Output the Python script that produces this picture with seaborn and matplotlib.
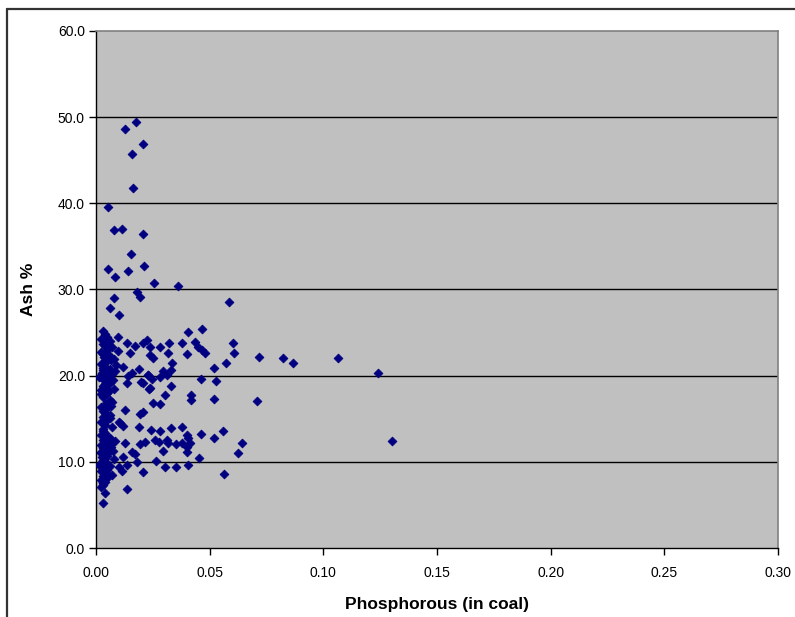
import matplotlib
matplotlib.use("Agg")
import matplotlib.pyplot as plt
import seaborn as sns
import pandas as pd
from matplotlib.lines import Line2D

# ---- data ----
outlier_x = [0.0128, 0.0176, 0.0207, 0.0158, 0.0163, 0.0053, 0.0079, 0.0114, 0.0207, 0.0153,
             0.0053, 0.0141, 0.0212, 0.0084, 0.0255, 0.0360, 0.0180, 0.0194, 0.0079, 0.0060,
             0.0100, 0.0585]
outlier_y = [48.6, 49.4, 46.9, 45.7, 41.8, 39.6, 36.9, 37.0, 36.4, 34.1,
             32.4, 32.1, 32.7, 31.4, 30.7, 30.4, 29.7, 29.1, 29.0, 27.8,
             27.0, 28.5]

mid_x = [0.0405, 0.0466, 0.0098, 0.0136, 0.0172, 0.0207, 0.0224, 0.0238, 0.0280, 0.0320,
         0.0380, 0.0436, 0.0450, 0.0466, 0.0480, 0.0603, 0.0607, 0.0717, 0.0824, 0.0865,
         0.1066, 0.1242, 0.1304, 0.0150, 0.0238, 0.0250, 0.0317, 0.0334, 0.0400, 0.0572,
         0.0520, 0.0190, 0.0158, 0.0141, 0.0295, 0.0312, 0.0229, 0.0246, 0.0280, 0.0330,
         0.0462, 0.0528, 0.0136, 0.0207, 0.0330, 0.0233, 0.0304, 0.0418, 0.0418, 0.0520,
         0.0708, 0.0250, 0.0280, 0.0128, 0.0194, 0.0207, 0.0101, 0.0119, 0.0190, 0.0242,
         0.0280, 0.0330, 0.0380, 0.0400, 0.0405, 0.0462, 0.0520, 0.0559, 0.0642, 0.0625,
         0.0128, 0.0194, 0.0216, 0.0260, 0.0277, 0.0312, 0.0317, 0.0352, 0.0380, 0.0400,
         0.0414, 0.0295, 0.0400, 0.0158, 0.0172, 0.0119, 0.0180, 0.0264, 0.0453, 0.0101,
         0.0114, 0.0136, 0.0207, 0.0304, 0.0352, 0.0405, 0.0563, 0.0136, 0.0030, 0.0040,
         0.0198, 0.0238, 0.0229, 0.0106, 0.0120]
mid_y = [25.1, 25.4, 24.5, 23.8, 23.4, 23.8, 24.1, 23.3, 23.3, 23.8,
         23.8, 23.9, 23.3, 23.0, 22.6, 23.8, 22.6, 22.2, 22.1, 21.5,
         22.1, 20.3, 12.4, 22.6, 22.4, 22.0, 22.6, 21.5, 22.5, 21.5,
         20.9, 20.8, 20.3, 20.0, 20.5, 20.1, 20.1, 19.6, 19.9, 20.7,
         19.6, 19.4, 19.1, 19.2, 18.8, 18.4, 17.8, 17.8, 17.2, 17.3,
         17.1, 16.8, 16.7, 16.0, 15.6, 15.8, 14.6, 14.2, 14.1, 13.7,
         13.6, 13.9, 14.0, 13.1, 12.8, 13.2, 12.8, 13.6, 12.2, 11.0,
         12.2, 12.1, 12.3, 12.5, 12.3, 12.5, 12.2, 12.1, 12.2, 11.7,
         12.2, 11.3, 11.1, 11.1, 10.9, 10.6, 10.0, 10.1, 10.4, 9.4,
         8.9, 9.6, 8.8, 9.4, 9.4, 9.6, 8.6, 6.8, 5.2, 6.4,
         19.3, 18.6, 20.1, 14.5, 21.0]

upper_x = [0.003, 0.004, 0.005, 0.002, 0.006, 0.003, 0.004, 0.007, 0.005, 0.002,
           0.003, 0.006, 0.004, 0.008, 0.005, 0.003, 0.002, 0.004, 0.006, 0.003,
           0.005, 0.007, 0.004, 0.002, 0.003, 0.005, 0.006, 0.004, 0.003, 0.008,
           0.002, 0.005, 0.004, 0.003, 0.006, 0.007, 0.004, 0.002, 0.005, 0.003,
           0.004, 0.006, 0.003, 0.005, 0.002, 0.004, 0.007, 0.003, 0.005, 0.004,
           0.009, 0.003, 0.006, 0.004, 0.002, 0.0045, 0.0055, 0.0065, 0.0035, 0.0085,
           0.0025, 0.0075, 0.0045, 0.0035, 0.0055, 0.0065, 0.0015, 0.0095, 0.0040, 0.0060]
upper_y = [25.2, 24.8, 24.5, 24.2, 24.0, 23.7, 23.5, 23.3, 23.0, 22.8,
           22.5, 22.3, 22.1, 21.9, 21.7, 21.5, 21.3, 21.0, 20.8, 20.6,
           20.4, 20.2, 20.0, 19.8, 19.6, 19.4, 19.2, 19.0, 18.8, 18.5,
           18.3, 18.0, 17.7, 17.5, 17.2, 17.0, 16.7, 16.4, 16.2, 15.9,
           15.7, 15.4, 15.2, 14.9, 14.6, 14.3, 14.0, 13.8, 23.9, 22.6,
           21.2, 20.9, 19.9, 18.7, 17.9, 24.4, 23.6, 21.8, 21.1, 20.5,
           20.3, 19.5, 19.1, 22.2, 18.2, 16.5, 19.9, 22.9, 18.1, 15.1]

lower_x = [0.003, 0.004, 0.002, 0.005, 0.006, 0.003, 0.004, 0.007, 0.002, 0.005,
           0.003, 0.004, 0.006, 0.002, 0.003, 0.005, 0.004, 0.008, 0.003, 0.002,
           0.004, 0.006, 0.005, 0.003, 0.002, 0.004, 0.007, 0.003, 0.005, 0.002,
           0.004, 0.003, 0.006, 0.004, 0.002, 0.003, 0.005, 0.004, 0.003, 0.002,
           0.0045, 0.0055, 0.0035, 0.0065, 0.0085, 0.0025, 0.0075, 0.0045, 0.0015, 0.0050]
lower_y = [13.6, 13.3, 13.1, 12.9, 12.7, 12.5, 12.3, 12.2, 12.0, 11.8,
           11.6, 11.5, 11.3, 11.1, 10.9, 10.7, 10.5, 10.3, 10.1, 9.9,
           9.7, 9.5, 9.3, 9.1, 8.9, 8.7, 8.5, 8.3, 8.1, 7.9,
           7.7, 7.5, 12.8, 11.9, 11.0, 10.2, 9.0, 8.0, 7.3, 7.1,
           12.6, 12.1, 11.4, 11.7, 12.4, 10.6, 11.2, 10.0, 9.6, 8.6]

x_ticks = [0.00, 0.05, 0.10, 0.15, 0.20, 0.25, 0.30]
y_ticks = [0.0, 10.0, 20.0, 30.0, 40.0, 50.0, 60.0]
x_label = "Phosphorous (in coal)"
y_label = "Ash %"

df = pd.DataFrame({
    "P": outlier_x + mid_x + upper_x + lower_x,
    "Ash": outlier_y + mid_y + upper_y + lower_y,
})

# ---- plot ----
sns.set_theme(style="white")
plt.rcParams["font.family"] = ["Liberation Sans", "DejaVu Sans"]

fig = plt.figure(figsize=(7.95, 6.17), dpi=100)
ax = fig.add_axes([96 / 795, 1 - 548 / 617, (778 - 96) / 795, (548 - 31) / 617])
ax.set_facecolor("#C0C0C0")

sns.scatterplot(data=df, x="P", y="Ash", ax=ax, marker="D", s=20,
                color="#000080", edgecolor="#000080", linewidth=0.6, zorder=3)

ax.set_xlim(0, 0.30)
ax.set_ylim(0, 60)
ax.set_xticks(x_ticks)
ax.set_xticklabels([f"{v:.2f}" for v in x_ticks])
ax.set_yticks(y_ticks)
ax.set_yticklabels([f"{v:.1f}" for v in y_ticks])

for yv in y_ticks[1:-1]:
    ax.axhline(yv, color="black", linewidth=1.0, zorder=1)

for side in ["top", "right"]:
    ax.spines[side].set_visible(True)
    ax.spines[side].set_color("#808080")
    ax.spines[side].set_linewidth(1.2)
for side in ["left", "bottom"]:
    ax.spines[side].set_color("black")
    ax.spines[side].set_linewidth(1.0)

ax.tick_params(axis="both", which="both", direction="out", length=5, width=1.0,
               color="black", labelsize=10, labelcolor="black",
               bottom=True, left=True, top=False, right=False)
ax.tick_params(axis="x", pad=8)
ax.tick_params(axis="y", pad=3)

ax.set_xlabel(x_label, fontsize=12.5, fontweight="bold", labelpad=12, color="black")
ax.set_ylabel(y_label, fontsize=12.5, fontweight="bold", labelpad=16, color="black")

# outer chart border (top and left visible in reference)
fig.add_artist(Line2D([7 / 795, 1.0], [1 - 9 / 617, 1 - 9 / 617],
                      transform=fig.transFigure, color="#333333", linewidth=1.6))
fig.add_artist(Line2D([7 / 795, 7 / 795], [0.0, 1 - 9 / 617],
                      transform=fig.transFigure, color="#333333", linewidth=1.6))

fig.savefig("out.png", dpi=100)
